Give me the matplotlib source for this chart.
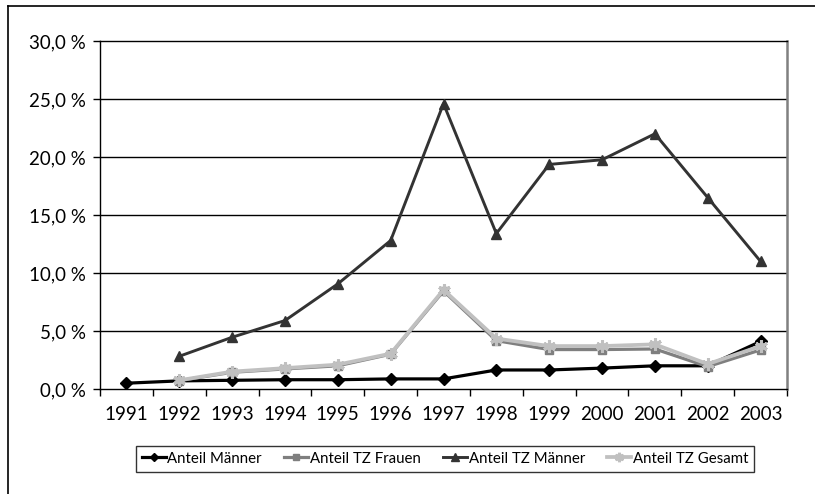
import numpy as np
import matplotlib
matplotlib.use("Agg")
import matplotlib.pyplot as plt
from matplotlib.lines import Line2D
from matplotlib.ticker import FixedLocator, FuncFormatter

plt.rcParams['font.family'] = ['Lato', 'DejaVu Sans']

years = ['1991', '1992', '1993', '1994', '1995', '1996', '1997',
         '1998', '1999', '2000', '2001', '2002', '2003']
anteil_maenner = [0.5, 0.7, 0.75, 0.8, 0.8, 0.87, 0.87, 1.64, 1.64, 1.8, 2.0, 2.0, 4.1]
tz_frauen = [np.nan, 0.72, 1.44, 1.73, 2.0, 3.0, 8.45, 4.17, 3.4, 3.4, 3.45, 1.93, 3.37]
tz_maenner = [np.nan, 2.82, 4.46, 5.9, 9.06, 12.8, 24.6, 13.4, 19.36, 19.76, 22.0, 16.5, 11.0]
tz_gesamt = [np.nan, 0.75, 1.5, 1.8, 2.1, 3.05, 8.55, 4.35, 3.7, 3.7, 3.85, 2.15, 3.7]

W, H = 815, 494
fig = plt.figure(figsize=(W / 100, H / 100), dpi=100)
ax = fig.add_axes([100 / W, (H - 389) / H, 687 / W, 348 / H])

x = np.arange(len(years))
ax.plot(x, anteil_maenner, color='black', lw=2.3, marker='D', ms=6,
        label='Anteil Männer', zorder=3)
ax.plot(x, tz_frauen, color='#7f7f7f', lw=2.3, marker='s', ms=6,
        label='Anteil TZ Frauen', zorder=4)
ax.plot(x, tz_maenner, color='#333333', lw=2.1, marker='^', ms=7,
        label='Anteil TZ Männer', zorder=5)
ax.plot(x, tz_gesamt, color='#c0c0c0', lw=2.7, marker=(6, 2, 0), ms=9, mew=2.2,
        label='Anteil TZ Gesamt', zorder=6)

ax.set_xlim(-0.5, len(years) - 0.5)
ax.set_ylim(0, 30)

ax.set_xticks(x)
ax.set_xticklabels(years, fontsize=13.5)
ax.xaxis.set_minor_locator(FixedLocator(np.arange(-0.5, len(years), 1.0)))
ax.tick_params(axis='x', which='major', length=0, pad=12)
ax.tick_params(axis='x', which='minor', length=5, width=1, direction='out')

ax.set_yticks(np.arange(0, 31, 5))
ax.yaxis.set_major_formatter(FuncFormatter(lambda v, p: ('%.1f %%' % v).replace('.', ',')))
ax.tick_params(axis='y', length=5, width=1, direction='out', pad=5, labelsize=13.5)

for yv in range(5, 30, 5):
    ax.axhline(yv, color='black', lw=1, zorder=1)

ax.spines['top'].set_color('black')
ax.spines['top'].set_linewidth(1)
ax.spines['left'].set_linewidth(1)
ax.spines['bottom'].set_linewidth(1)
ax.spines['right'].set_color('#808080')
ax.spines['right'].set_linewidth(1.8)

leg = fig.legend(loc='center', bbox_to_anchor=(445 / W, (H - 458.5) / H), ncol=4,
                 fontsize=10.8, frameon=True, fancybox=False, edgecolor='black',
                 handlelength=1.6, handletextpad=0.1, columnspacing=1.5,
                 borderpad=0.4, markerscale=0.75)
leg.get_frame().set_linewidth(1)

# outer chart frame (left and top edges)
fig.add_artist(Line2D([7.5 / W, 7.5 / W], [0, 1 - 6.5 / H], color='black', lw=1.2))
fig.add_artist(Line2D([7.5 / W, 1], [1 - 6.5 / H, 1 - 6.5 / H], color='black', lw=1.2))

fig.savefig('out.png', dpi=100)
